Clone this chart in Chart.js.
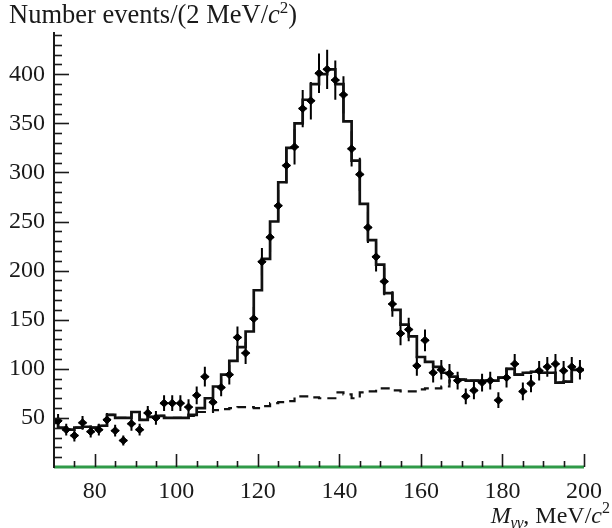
<!DOCTYPE html>
<html><head><meta charset="utf-8">
<script src="https://cdn.jsdelivr.net/npm/chart.js@4.4.0/dist/chart.umd.min.js"></script>
<style>html,body{margin:0;padding:0;background:#fff;}#wrap{width:612px;height:528px;position:relative;}</style>
</head><body><div id="wrap"><canvas id="c" width="612" height="528"></canvas></div>
<script>
// ---- data ----
const massCenters = [71,73,75,77,79,81,83,85,87,89,91,93,95,97,99,101,103,105,107,109,111,113,115,117,119,121,123,125,127,129,131,133,135,137,139,141,143,145,147,149,151,153,155,157,159,161,163,165,167,169,171,173,175,177,179,181,183,185,187,189,191,193,195,197,199];
const events = [47,38,32,45,36,38,48,37,27,44,38,55,50,65,65,65,61,73,92,66,81,94,132,116,151,209,234,266,307,326,365,373,401,405,394,379,324,298,244,214,189,166,136,140,103,129,96,99,95,88,72,78,86,88,68,91,105,77,85,98,102,105,98,102,99];
const eventErrors = [7,6,6,7,6,6,7,6,5,7,6,7,7,8,8,8,8,9,10,8,9,10,11,11,12,14,15,16,18,18,19,19,20,20,20,19,18,17,16,15,14,13,12,12,10,11,10,10,10,9,8,9,9,9,8,10,10,9,9,10,10,10,10,10,10];
const histCenters = [70,72,74,76,78,80,82,84,86,88,90,92,94,96,98,100,102,104,106,108,110,112,114,116,118,120,122,124,126,128,130,132,134,136,138,140,142,144,146,148,150,152,154,156,158,160,162,164,166,168,170,172,174,176,178,180,182,184,186,188,190,192,194,196,198,200];
const fitValues = [
  45,40,38,40,41,40,42,53,50,50,   // 70-88
  56,48,51,52,50,50,50,53,60,70,   // 90-108
  82,94,108,122,138,180,212,250,290,325, // 110-128
  350,374,390,400,405,390,352,312,268,231, // 130-148
  206,177,160,145,133,112,107,102,96,92,   // 150-168
  89,88,88,88,88,91,100,94,96,97,          // 170-188
  96,96,86,87,99,99                        // 190-200
];
const bkgValues = [
  45,40,38,40,41,40,42,53,50,50,   // 70-88
  56,48,51,52,50,50,50,52,56,56,   // 90-108
  58,59,60,61,61,60,62,65,66,67,   // 110-128
  72,72,71,70,70,76,74,70,76,77,   // 130-148
  80,80,78,77,77,79,80,80,82,88,   // 150-168
  89,88,88,88,88,91,100,94,96,97,  // 170-188
  96,96,86,87,99,99                // 190-200
];
const xTickLabels = [80,100,120,140,160,180,200];
const yTickLabels = [50,100,150,200,250,300,350,400];

const SERIF = '"Liberation Serif", "Times New Roman", serif';
const INK = '#1a1a1a';

const errorBars = {
  id: 'errorBars',
  beforeDatasetsDraw(chart) {
    const {ctx, scales:{x, y}} = chart;
    ctx.save();
    ctx.strokeStyle = '#000';
    ctx.lineWidth = 2;
    massCenters.forEach((m, i) => {
      const px = x.getPixelForValue(m);
      const y1 = y.getPixelForValue(events[i] - eventErrors[i]);
      const y2 = y.getPixelForValue(events[i] + eventErrors[i]);
      const py = y.getPixelForValue(events[i]);
      ctx.beginPath();
      ctx.moveTo(px, y1); ctx.lineTo(px, y2);
      ctx.moveTo(px - 4, py); ctx.lineTo(px + 4, py);
      ctx.stroke();
    });
    ctx.restore();
  }
};

const axesDecor = {
  id: 'axesDecor',
  afterDraw(chart) {
    const {ctx, chartArea:a, scales:{x, y}} = chart;
    ctx.save();
    ctx.strokeStyle = '#2f9a48';
    ctx.lineWidth = 3;
    ctx.beginPath(); ctx.moveTo(a.left, a.bottom); ctx.lineTo(a.right, a.bottom); ctx.stroke();
    ctx.strokeStyle = INK;
    ctx.lineWidth = 2;
    ctx.beginPath(); ctx.moveTo(a.left, a.bottom + 1); ctx.lineTo(a.left, a.top); ctx.stroke();
    ctx.lineWidth = 1.6;
    for (let v = 10; v <= y.max; v += 10) {
      const py = Math.round(y.getPixelForValue(v)) + 0.5;
      const len = (v % 50 === 0) ? 15 : 8;
      ctx.beginPath(); ctx.moveTo(a.left, py); ctx.lineTo(a.left + len, py); ctx.stroke();
    }
    for (let v = 75; v <= 200; v += 5) {
      const px = Math.round(x.getPixelForValue(v)) + 0.5;
      const len = (v % 20 === 0) ? 13 : 6;
      ctx.beginPath(); ctx.moveTo(px, a.bottom); ctx.lineTo(px, a.bottom - len); ctx.stroke();
    }
    ctx.restore();

    ctx.save();
    ctx.fillStyle = INK;
    ctx.textBaseline = 'alphabetic';
    const seg = (parts, startX, baseY, rightAlign) => {
      let w = 0;
      parts.forEach(p => { ctx.font = p.f; w += ctx.measureText(p.t).width; });
      let cx = rightAlign ? startX - w : startX;
      parts.forEach(p => { ctx.font = p.f; ctx.fillText(p.t, cx, baseY + (p.dy || 0)); cx += ctx.measureText(p.t).width; });
    };
    const N = '26.5px ' + SERIF, I = 'italic 26.5px ' + SERIF, S = '17px ' + SERIF;
    seg([{t:'Number events/(2 MeV/', f:N}, {t:'c', f:I}, {t:'2', f:S, dy:-10}, {t:')', f:N}], 9, 23, false);
    const N2 = '24px ' + SERIF, I2 = 'italic 24px ' + SERIF, SI = 'italic 16px ' + SERIF, S2 = '16px ' + SERIF;
    seg([{t:'M', f:I2}, {t:'\u03b3\u03b3', f:SI, dy:5}, {t:', MeV/', f:N2}, {t:'c', f:I2}, {t:'2', f:S2, dy:-10}], 610, 523, true);
    ctx.restore();
  }
};

new Chart(document.getElementById('c'), {
  type: 'scatter',
  data: {
    datasets: [
      { type:'line', label:'background', data: histCenters.map((m,i)=>({x:m, y:bkgValues[i]})), stepped:'middle',
        borderColor:'#111', borderWidth:2.2, borderDash:[9,6], pointRadius:0, fill:false, order:3 },
      { type:'line', label:'fit', data: histCenters.map((m,i)=>({x:m, y:fitValues[i]})), stepped:'middle',
        borderColor:'#111', borderWidth:2.7, pointRadius:0, fill:false, order:2 },
      { type:'scatter', label:'data', data: massCenters.map((m,i)=>({x:m, y:events[i]})),
        pointStyle:'rectRot', pointRadius:4, backgroundColor:'#000', borderColor:'#000', borderWidth:1, order:1 }
    ]
  },
  options: {
    responsive:false, animation:false, devicePixelRatio:1,
    layout:{padding:{top:32, right:20, left:0, bottom:0}},
    plugins:{legend:{display:false}, tooltip:{enabled:false}, title:{display:false}},
    scales:{
      x:{type:'linear', min:70, max:200,
        afterBuildTicks:s=>{s.ticks = xTickLabels.map(v=>({value:v}));},
        afterFit:s=>{s.height = 61;},
        grid:{display:false, drawTicks:false}, border:{display:false},
        ticks:{padding:10, color:INK, maxRotation:0, autoSkip:false, font:{family:SERIF, size:24}}},
      y:{type:'linear', min:0, max:443,
        afterBuildTicks:s=>{s.ticks = yTickLabels.map(v=>({value:v}));},
        afterFit:s=>{s.width = 54;},
        grid:{display:false, drawTicks:false}, border:{display:false},
        ticks:{padding:9, color:INK, autoSkip:false, font:{family:SERIF, size:24}}}
    }
  },
  plugins:[errorBars, axesDecor]
});
</script></body></html>
